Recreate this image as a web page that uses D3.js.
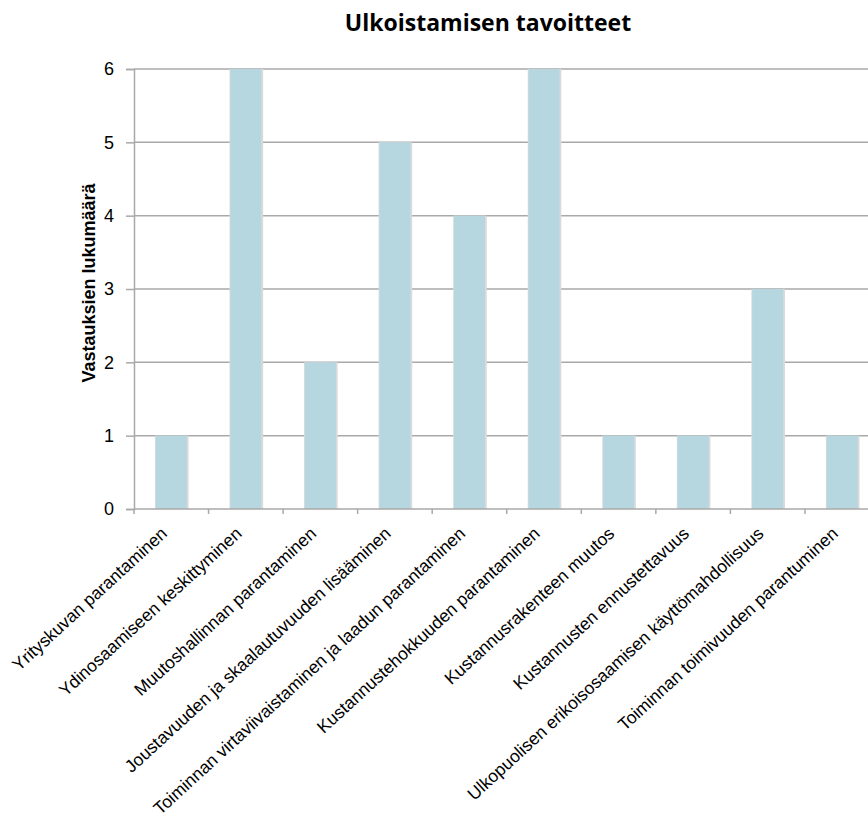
<!DOCTYPE html>
<html>
<head>
<meta charset="utf-8">
<script src="https://cdn.jsdelivr.net/npm/d3@7"></script>
<style>
  html, body { margin: 0; padding: 0; background: #fff; }
  svg { display: block; }
</style>
</head>
<body>
<svg id="chart" width="868" height="823"></svg>
<script>
// Survey answers: how many respondents named each outsourcing goal
const categories = [
  "Yrityskuvan parantaminen",
  "Ydinosaamiseen keskittyminen",
  "Muutoshallinnan parantaminen",
  "Joustavuuden ja skaalautuvuuden lisääminen",
  "Toiminnan virtaviivaistaminen ja laadun parantaminen",
  "Kustannustehokkuuden parantaminen",
  "Kustannusrakenteen muutos",
  "Kustannusten ennustettavuus",
  "Ulkopuolisen erikoisosaamisen käyttömahdollisuus",
  "Toiminnan toimivuuden parantuminen"
];
const counts = [1, 6, 2, 5, 4, 6, 1, 1, 3, 1];
const yTicks = [0, 1, 2, 3, 4, 5, 6];
const title = "Ulkoistamisen tavoitteet";
const yTitle = "Vastauksien lukumäärä";

const svg = d3.select("#chart");

const plot = { left: 134, right: 879.5, top: 69, bottom: 509 };

const x = d3.scaleBand()
  .domain(categories)
  .range([plot.left, plot.right])
  .paddingInner(0.584)
  .paddingOuter(0.292);

const y = d3.scaleLinear()
  .domain([0, 6])
  .range([plot.bottom, plot.top]);

const gridColor = "#a9a9a9";
const labelFont = "'Liberation Sans', Arial, sans-serif";

// horizontal gridlines
svg.append("g")
  .selectAll("line")
  .data(yTicks.filter(d => d > 0))
  .join("line")
  .attr("x1", plot.left)
  .attr("x2", plot.right)
  .attr("y1", d => y(d))
  .attr("y2", d => y(d))
  .attr("stroke", gridColor)
  .attr("stroke-width", 1.5);

// bars with a soft shadow along their sides
const bars = svg.append("g");
bars.selectAll("rect.shadow")
  .data(counts)
  .join("rect")
  .attr("class", "shadow")
  .attr("x", (d, i) => x(categories[i]) - 0.8)
  .attr("y", d => y(d))
  .attr("width", x.bandwidth() + 2.6)
  .attr("height", d => y(0) - y(d))
  .attr("fill", "#dadada");
bars.selectAll("rect.bar")
  .data(counts)
  .join("rect")
  .attr("class", "bar")
  .attr("x", (d, i) => x(categories[i]))
  .attr("y", d => y(d))
  .attr("width", x.bandwidth())
  .attr("height", d => y(0) - y(d))
  .attr("fill", "#b6d7e0");

// y axis
const yAxis = svg.append("g")
  .attr("transform", `translate(${plot.left},0)`)
  .call(d3.axisLeft(y).tickValues(yTicks).tickFormat(d3.format("d")).tickSize(8).tickPadding(12));
yAxis.select(".domain").attr("stroke", gridColor).attr("stroke-width", 1.5);
yAxis.selectAll(".tick line").attr("stroke", gridColor).attr("stroke-width", 1.5);
yAxis.selectAll("text")
  .attr("font-family", labelFont)
  .attr("font-size", 18)
  .attr("fill", "#000");

// x axis baseline and category separators
const bounds = d3.range(categories.length + 1).map(i => plot.left + i * x.step());
svg.append("line")
  .attr("x1", plot.left).attr("x2", plot.right)
  .attr("y1", y(0)).attr("y2", y(0))
  .attr("stroke", gridColor).attr("stroke-width", 1.5);
svg.append("g")
  .selectAll("line")
  .data(bounds)
  .join("line")
  .attr("x1", d => d).attr("x2", d => d)
  .attr("y1", y(0)).attr("y2", y(0) + 5)
  .attr("stroke", gridColor).attr("stroke-width", 1.5);

// rotated category labels
svg.append("g")
  .selectAll("text")
  .data(categories)
  .join("text")
  .attr("transform", d => `translate(${x(d) + x.bandwidth() / 2 - 3},${y(0) + 26}) rotate(-42.5)`)
  .attr("text-anchor", "end")
  .attr("font-family", labelFont)
  .attr("font-size", 17.5)
  .attr("fill", "#000")
  .text(d => d);

// y axis title
svg.append("text")
  .attr("transform", `translate(95,283) rotate(-90)`)
  .attr("text-anchor", "middle")
  .attr("font-family", labelFont)
  .attr("font-weight", "bold")
  .attr("font-size", 18)
  .attr("fill", "#000")
  .text(yTitle);

// chart title
svg.append("text")
  .attr("x", 488)
  .attr("y", 31)
  .attr("text-anchor", "middle")
  .attr("font-family", "'Open Sans', sans-serif")
  .attr("font-weight", "bold")
  .attr("font-size", 23)
  .attr("fill", "#000")
  .text(title);
</script>
</body>
</html>
